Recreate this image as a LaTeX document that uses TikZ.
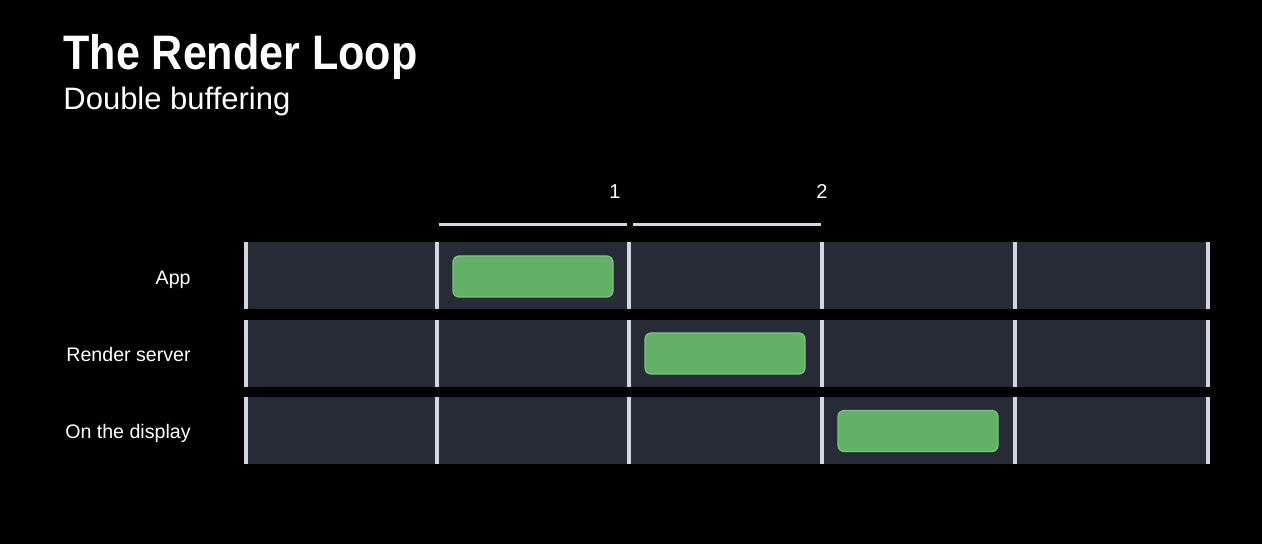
\documentclass[tikz,border=0pt]{standalone}
\usepackage{fontspec}
\setmainfont{Liberation Sans}
\newfontfamily\titlefont[FakeStretch=0.89]{Liberation Sans}
\definecolor{bgc}{HTML}{000000}
\definecolor{rowc}{HTML}{262B35}
\definecolor{divc}{HTML}{D2D6E2}
\definecolor{greenc}{HTML}{62B166}
\definecolor{greenb}{HTML}{7CC680}
\begin{document}
\begin{tikzpicture}[x=0.5pt,y=-0.5pt,
  rowbar/.style={fill=rowc, draw=none},
  divider/.style={draw=divc, line width=2pt},
  topbar/.style={draw=divc, line width=1.5pt},
  task/.style={fill=greenc, draw=greenb, line width=0.6pt, rounded corners=3pt},
  lbl/.style={text=white, font=\fontsize{9.8}{12}\selectfont, anchor=base east, inner sep=0pt},
  num/.style={text=white, font=\fontsize{10}{12}\selectfont, anchor=base, inner sep=0pt}]
\fill[bgc] (0,0) rectangle (1262,544);
\useasboundingbox (0,0) rectangle (1262,544);
\node[text=white, font=\titlefont\fontsize{24.2}{30}\bfseries\selectfont, anchor=base west, inner sep=0pt] (title) at (63,70) {The Render Loop};
\node[text=white, font=\fontsize{15.5}{20}\selectfont, anchor=base west, inner sep=0pt] (sub) at (63,110) {Double buffering};
% rows
\foreach \t/\b/\n in {242/309/r1, 320/387/r2, 397/464/r3}{
  \path[rowbar] (245,\t) rectangle (1210,\b);
  \foreach \x in {246,437,629,822,1015,1208}{
    \draw[divider] (\x,\t) -- (\x,\b);
  }
}
\node[lbl] (app) at (191,285) {App};
\node[lbl] (rs) at (191,362) {Render server};
\node[lbl] (disp) at (191,439) {On the display};
% top bars
\coordinate (b1s) at (439,225); \coordinate (b1e) at (627,225);
\coordinate (b2s) at (633,225); \coordinate (b2e) at (821,225);
\draw[topbar] (b1s) -- (b1e);
\draw[topbar] (b2s) -- (b2e);
\node[num] (n1) at (615,199) {1};
\node[num] (n2) at (822,199) {2};
% tasks
\node[task, minimum width=80pt, minimum height=20.5pt, inner sep=0pt] (t1) at (533,276.5) {};
\node[task, minimum width=80pt, minimum height=20.5pt, inner sep=0pt] (t2) at (725,353.5) {};
\node[task, minimum width=80pt, minimum height=20.5pt, inner sep=0pt] (t3) at (918,431) {};
\end{tikzpicture}
\end{document}
